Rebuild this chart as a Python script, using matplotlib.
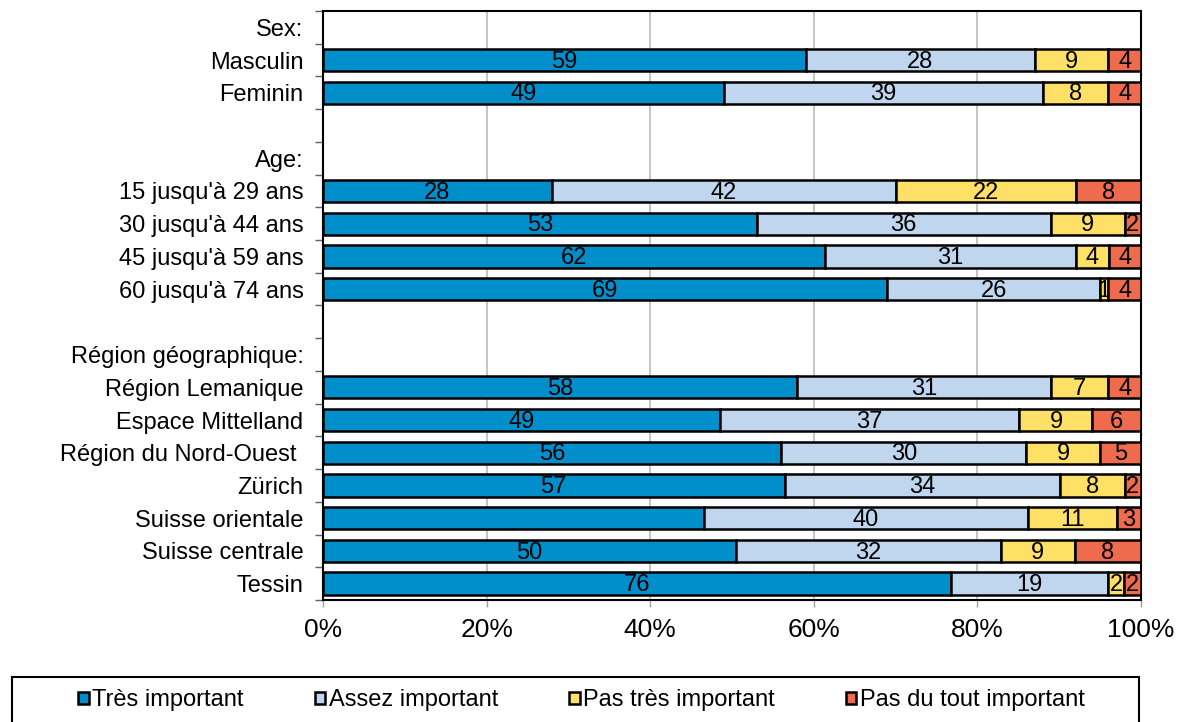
import matplotlib.pyplot as plt
from matplotlib.patches import Rectangle
import numpy as np

plt.rcParams['font.family'] = ['Liberation Sans', 'DejaVu Sans']

categories = ["Sex:", "Masculin", "Feminin", "",
              "Age:", "15 jusqu'à 29 ans", "30 jusqu'à 44 ans", "45 jusqu'à 59 ans", "60 jusqu'à 74 ans", "",
              "Région géographique:", "Région Lemanique", "Espace Mittelland", "Région du Nord-Ouest ",
              "Zürich", "Suisse orientale", "Suisse centrale", "Tessin"]

series = ["Très important", "Assez important", "Pas très important", "Pas du tout important"]
colors = ["#008FCA", "#BFD6EE", "#FFE066", "#EE6B4D"]

# one value per row, None for heading / spacer rows
tres = [None, 59, 49, None, None, 28, 53, 62, 69, None, None, 58, 49, 56, 57, 47, 50, 76]
assez = [None, 28, 39, None, None, 42, 36, 31, 26, None, None, 31, 37, 30, 34, 40, 32, 19]
pas_tres = [None, 9, 8, None, None, 22, 9, 4, 1, None, None, 7, 9, 9, 8, 11, 9, 2]
pas_du_tout = [None, 4, 4, None, None, 8, 2, 4, 4, None, None, 4, 6, 5, 2, 3, 8, 2]

# the Très important value of Suisse orientale carries no label
hide_label = {(0, 15)}

values = [tres, assez, pas_tres, pas_du_tout]

fig = plt.figure(figsize=(11.77, 7.22), dpi=100)
ax = fig.add_axes([0.2744, 0.169, 0.695, 0.8158])

y = np.arange(len(categories))
rows = [i for i in y if tres[i] is not None]
totals = {i: sum(v[i] for v in values) for i in rows}

left = {i: 0.0 for i in rows}
for s, (name, vals, col) in enumerate(zip(series, values, colors)):
    ys = rows
    widths = [vals[i] / totals[i] * 100 for i in rows]
    lefts = [left[i] for i in rows]
    ax.barh(ys, widths, left=lefts, height=0.68, color=col, edgecolor='black',
            linewidth=1.8, label=name, zorder=3)
    for i, w, l in zip(ys, widths, lefts):
        if (s, i) not in hide_label:
            ax.text(l + w / 2, i + 0.05, str(vals[i]), ha='center', va='center',
                    fontsize=17, color='black', zorder=4)
        left[i] += w

ax.set_xlim(0, 100)
ax.set_ylim(len(categories) - 0.5, -0.5)
ax.set_xticks(np.arange(0, 101, 20))
ax.set_xticklabels([f"{t}%" for t in range(0, 101, 20)], fontsize=19)
ax.tick_params(axis='x', length=5, width=1, color='#A0A0A0', pad=8)
ax.set_yticks(y)
ax.set_yticklabels(categories, fontsize=17)
ax.tick_params(axis='y', which='major', length=0, pad=14)
ax.set_yticks(np.arange(-0.5, len(categories), 1), minor=True)
ax.tick_params(axis='y', which='minor', length=6, width=1, color='#606060')
ax.xaxis.grid(True, color='#BFBFBF', linewidth=1.3, zorder=0)
ax.set_axisbelow(True)
for sp in ax.spines.values():
    sp.set_linewidth(1.5)
    sp.set_color('black')

fig.patches.append(Rectangle((0.0102, -0.02), 0.9575, 0.082, transform=fig.transFigure,
                             fill=False, edgecolor='black', linewidth=1.5))
fig.legend(loc='center', bbox_to_anchor=(0.494, 0.030), ncol=4, frameon=False,
           fontsize=17, handlelength=0.45, handleheight=0.45, handletextpad=0.15,
           columnspacing=3.0)

fig.savefig("out.png", dpi=100)
